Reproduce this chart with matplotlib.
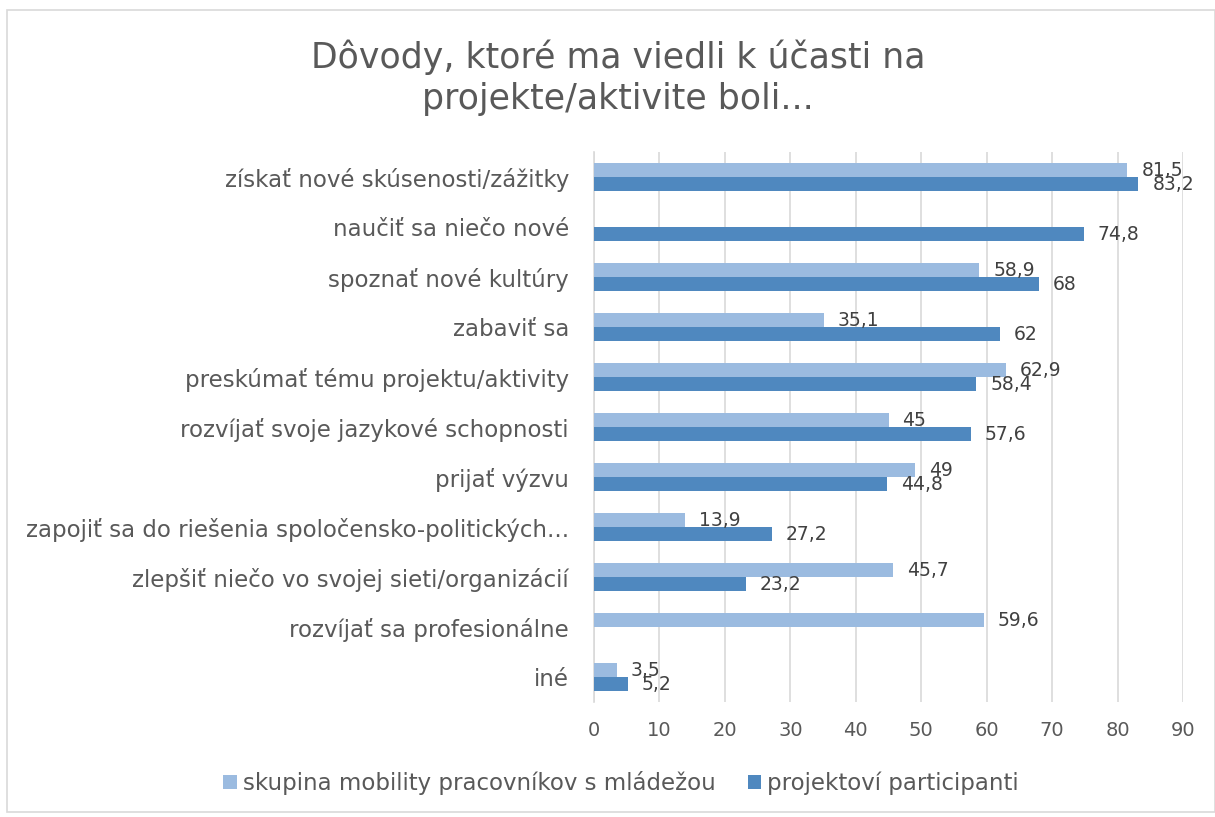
import matplotlib.pyplot as plt
import numpy as np

# data
categories = ['získať nové skúsenosti/zážitky', 'naučiť sa niečo nové', 'spoznať nové kultúry',
              'zabaviť sa', 'preskúmať tému projektu/aktivity', 'rozvíjať svoje jazykové schopnosti',
              'prijať výzvu', 'zapojiť sa do riešenia spoločensko-politických...',
              'zlepšiť niečo vo svojej sieti/organizácií', 'rozvíjať sa profesionálne', 'iné']
workers = [81.5, None, 58.9, 35.1, 62.9, 45, 49, 13.9, 45.7, 59.6, 3.5]
participants = [83.2, 74.8, 68, 62, 58.4, 57.6, 44.8, 27.2, 23.2, None, 5.2]
series_names = ['skupina mobility pracovníkov s mládežou', 'projektoví participanti']
xticks = [0, 10, 20, 30, 40, 50, 60, 70, 80, 90]

c_light = '#9bbbe0'
c_dark = '#4f88bf'
txt = '#595959'

plt.rcParams['font.family'] = ['DejaVu Sans']

fig = plt.figure(figsize=(12.15, 8.17), dpi=100)
ax = fig.add_axes([594 / 1215, 1 - 702 / 817, (1183 - 594) / 1215, 550 / 817])

y = np.arange(len(categories))
h = 0.28


def fmt(v):
    if float(v).is_integer():
        return str(int(v))
    return ('%.1f' % v).replace('.', ',')


for vals, off, col, name in [(workers, -h / 2, c_light, series_names[0]),
                             (participants, h / 2, c_dark, series_names[1])]:
    yy = [y[i] + off for i, v in enumerate(vals) if v is not None]
    vv = [v for v in vals if v is not None]
    ax.barh(yy, vv, height=h, color=col, label=name, zorder=3)
    for a, b in zip(yy, vv):
        ax.annotate(fmt(b), (b, a), xytext=(10, 0), textcoords='offset points',
                    ha='left', va='center', fontsize=13.5, color='#404040', zorder=4)

ax.set_ylim(len(categories) - 0.5, -0.5)
ax.set_xlim(0, 90)
ax.set_xticks(xticks)
ax.set_yticks(y)
ax.set_yticklabels(categories)
ax.tick_params(axis='both', length=0, labelsize=16.5, colors=txt)
ax.tick_params(axis='x', labelsize=14, pad=14)
ax.tick_params(axis='y', pad=18)
ax.grid(axis='x', color='#d9d9d9', linewidth=1.2, zorder=0)
for s in ['top', 'right', 'bottom']:
    ax.spines[s].set_visible(False)
ax.spines['left'].set_color('#d9d9d9')
ax.spines['left'].set_linewidth(1.2)

fig.text(618 / 1215, 1 - 78 / 817, 'Dôvody, ktoré ma viedli k účasti na\nprojekte/aktivite boli...',
         ha='center', va='center', fontsize=25, color=txt, linespacing=1.25)

leg = fig.legend(loc='center', bbox_to_anchor=(621 / 1215, 1 - 783 / 817), ncol=2, frameon=False,
                 fontsize=16.5, handlelength=0.6, handleheight=0.6, columnspacing=1.4,
                 handletextpad=0.25)
for t in leg.get_texts():
    t.set_color(txt)

# chart border
fig.patches.append(plt.Rectangle((7 / 1215, 5 / 817), 1 - 7 / 1215, 1 - 15 / 817,
                                 transform=fig.transFigure, fill=False,
                                 edgecolor='#d9d9d9', linewidth=1.2))

fig.savefig('out.png', dpi=100)
